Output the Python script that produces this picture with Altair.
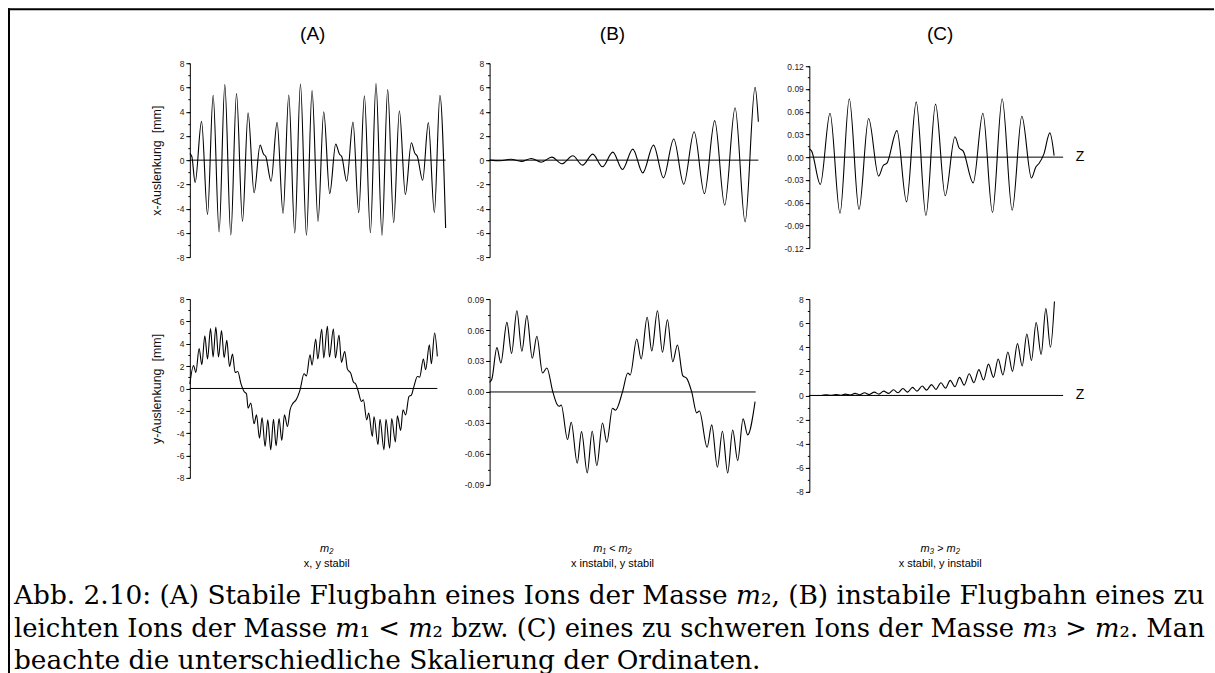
import altair as alt
import pandas as pd

SANS = "Liberation Sans Narrow, Liberation Sans, Arial, sans-serif"
SERIF = "DejaVu Serif, serif"

# ---------------- data ----------------
# panel A, x-deflection (mm)
a_top_z = [0, 2, 5.3, 11.7, 17.7, 23.3, 29.3, 35.0, 41.0, 46.7, 52.7, 58.3, 64.3, 70.3, 73.7, 76.0,
           81.3, 87.3, 93.3, 99.0, 105.0, 110.7, 116.7, 122.3, 128.3, 134.0, 140.0, 146.0, 149.7,
           152.0, 157.0, 163.3, 169.0, 174.7, 180.7, 186.3, 192.3, 198.0, 204.0, 209.7, 215.7,
           221.7, 225.0, 227.7, 233.0, 238.7, 244.7, 250.3, 256.0]
a_top_v = [0.55, 0.3, -1.85, 3.2, -4.5, 5.35, -5.93, 6.23, -6.18, 5.5, -5.05, 3.9, -2.7, 1.24, 0.5,
           0.3, -1.74, 3.12, -4.4, 5.38, -6.0, 6.29, -6.2, 5.74, -5.05, 4.0, -2.76, 1.32, 0.5, 0.3,
           -1.74, 3.14, -4.33, 5.32, -5.99, 6.32, -6.2, 5.82, -5.16, 4.08, -2.84, 1.43, 0.6, 0.3,
           -1.66, 3.1, -4.33, 5.35, -5.6]

# panel B, x-deflection (mm)
b_top_z = [0, 10.7, 21.3, 31.7, 41.7, 51.7, 62.3, 72.3, 83.3, 93.0, 103.3, 113.0, 123.3, 133.0,
           143.3, 153.3, 164.0, 174.0, 184.3, 194.3, 204.7, 215.0, 225.3, 235.3, 245.7, 255.7,
           265.7, 269.0]
b_top_v = [0, -0.05, 0.08, -0.1, 0.14, -0.17, 0.25, -0.3, 0.36, -0.41, 0.5, -0.55, 0.66, -0.77,
           0.91, -1.05, 1.24, -1.46, 1.74, -1.99, 2.34, -2.76, 3.26, -3.72, 4.33, -5.1, 6.01, 3.17]

# panel C, x-deflection (mm)
c_top_z = [0, 2.3, 11.0, 20.7, 30.7, 40.0, 49.7, 59.3, 69.3, 74.0, 77.7, 87.7, 97.3, 107.0, 116.7,
           126.3, 136.0, 145.7, 150.0, 154.0, 164.0, 173.7, 183.3, 193.0, 203.0, 212.7, 222.3,
           226.7, 230.0, 234.7, 240.7, 245.0]
c_top_v = [0.011, 0.008, -0.036, 0.058, -0.074, 0.077, -0.069, 0.051, -0.025, -0.011, -0.008,
           0.035, -0.059, 0.073, -0.077, 0.070, -0.051, 0.027, 0.012, 0.008, -0.034, 0.058,
           -0.073, 0.077, -0.070, 0.054, -0.0275, -0.013, -0.008, 0.004, 0.032, 0.002]

# panel A, y-deflection (mm)
a_bot_z = [0.0, 3.7, 6.0, 9.3, 12.0, 15.0, 17.7, 20.7, 23.3, 26.0, 28.7, 31.7, 34.3, 37.0, 39.7,
           42.7, 45.3, 48.0, 51.0, 54.3, 56.7, 58.3, 61.0, 64.3, 66.7, 69.7, 72.3, 75.3, 78.0,
           81.0, 83.7, 86.3, 89.3, 92.0, 94.7, 97.7, 100.3, 103.3, 106.0, 110.3, 114.3, 116.7,
           120.3, 122.3, 126.0, 128.0, 132.0, 134.0, 137.7, 139.7, 143.7, 145.7, 149.3, 151.7,
           155.0, 157.7, 161.0, 163.7, 166.0, 168.3, 171.7, 173.7, 177.0, 179.0, 182.7, 184.3,
           188.3, 190.3, 194.3, 196.3, 200.0, 202.0, 205.7, 207.7, 211.0, 213.3, 216.0, 219.3,
           221.7, 224.3, 227.7, 230.0, 233.7, 236.0, 239.7, 241.7, 245.0, 247.7]
a_bot_v = [0.39, 2.06, 1.43, 3.58, 2.12, 4.72, 2.63, 5.37, 2.81, 5.49, 2.81, 5.19, 2.75, 4.30,
           1.97, 3.07, 1.43, 1.52, 0.48, -0.27, -0.48, -1.76, -1.31, -3.16, -2.36, -4.45, -2.60,
           -5.19, -2.81, -5.49, -2.75, -5.13, -2.69, -4.66, -2.36, -3.40, -1.91, -1.31, -1.07,
           -0.12, 1.31, 1.13, 3.01, 2.09, 4.42, 2.63, 5.31, 2.72, 5.55, 2.81, 5.34, 2.72, 4.78,
           2.33, 3.31, 1.73, 1.37, 0.57, 0.39, -0.18, -1.16, -1.01, -2.81, -2.21, -4.30, -2.51,
           -5.04, -2.75, -5.49, -2.75, -5.34, -2.69, -4.78, -2.45, -3.76, -1.91, -2.36, -0.72,
           -0.60, 0.18, 1.07, 1.01, 2.63, 1.67, 3.91, 2.21, 4.96, 2.87]

# panel B, y-deflection (mm)
b_bot_z = [0, 2.3, 7.3, 11.3, 17.3, 22.0, 27.3, 32.3, 37.3, 42.7, 47.3, 53.0, 57.3, 63.3, 67.3,
           69.7, 71.7, 78.0, 81.7, 87.7, 92.0, 97.7, 102.7, 107.3, 113.0, 117.3, 123.0, 126.0,
           133.0, 138.3, 140.7, 147.3, 151.7, 157.7, 162.3, 168.0, 173.0, 178.0, 183.3, 188.0,
           193.3, 197.3, 202.3, 207.3, 210.0, 217.7, 222.3, 228.0, 233.0, 238.3, 243.3, 248.3,
           253.7, 258.3, 265.7]
b_bot_v = [0.0094, 0.0126, 0.0429, 0.0281, 0.0674, 0.0374, 0.0787, 0.0394, 0.0739, 0.0326,
           0.0539, 0.0184, 0.0232, 0.0, -0.0116, -0.0139, -0.0126, -0.0461, -0.0294, -0.0690,
           -0.0384, -0.0784, -0.0381, -0.0713, -0.0300, -0.0487, -0.0158, -0.0177, 0.0, 0.0184,
           0.0165, 0.0513, 0.0319, 0.0723, 0.0397, 0.0787, 0.0384, 0.0700, 0.0294, 0.0455,
           0.0158, 0.0132, 0.0, -0.0203, -0.0184, -0.0535, -0.0319, -0.0729, -0.0381, -0.0784,
           -0.0368, -0.0665, -0.0261, -0.0416, -0.0094]

# panel C, y-deflection (mm)
c_bot_z = [0, 12.0, 16.7, 21.7, 26.3, 31.0, 36.0, 41.0, 45.7, 50.3, 55.3, 60.0, 65.0, 69.7, 74.3,
           79.3, 84.3, 88.7, 93.7, 98.3, 103.3, 107.7, 113.0, 117.3, 122.3, 126.7, 131.7, 136.3,
           141.0, 145.7, 150.3, 155.0, 160.0, 164.7, 169.7, 174.3, 179.3, 184.3, 189.0, 193.7,
           198.7, 203.3, 208.3, 213.0, 217.7, 222.3, 227.0, 232.0, 236.7, 241.3, 245.3]
c_bot_v = [0.0, 0.0, 0.05, 0.01, 0.08, 0.02, 0.11, 0.03, 0.17, 0.06, 0.22, 0.08, 0.28, 0.11, 0.36,
           0.17, 0.47, 0.22, 0.58, 0.28, 0.67, 0.36, 0.78, 0.44, 0.9, 0.5, 1.05, 0.6, 1.25, 0.72,
           1.5, 0.86, 1.8, 1.05, 2.14, 1.28, 2.6, 1.5, 3.03, 1.7, 3.6, 2.0, 4.3, 2.45, 5.1, 2.9,
           6.05, 3.4, 7.2, 4.0, 7.8]

# axis ticks
ticks_mm_major = [-8, -6, -4, -2, 0, 2, 4, 6, 8]
ticks_mm_all = [-8, -7, -6, -5, -4, -3, -2, -1, 0, 1, 2, 3, 4, 5, 6, 7, 8]
ticks_c12_major = [-0.12, -0.09, -0.06, -0.03, 0.0, 0.03, 0.06, 0.09, 0.12]
ticks_c12_all = [-0.12, -0.105, -0.09, -0.075, -0.06, -0.045, -0.03, -0.015, 0.0, 0.015, 0.03,
                 0.045, 0.06, 0.075, 0.09, 0.105, 0.12]
ticks_c09_major = [-0.09, -0.06, -0.03, 0.0, 0.03, 0.06, 0.09]
ticks_c09_all = [-0.09, -0.075, -0.06, -0.045, -0.03, -0.015, 0.0, 0.015, 0.03, 0.045, 0.06,
                 0.075, 0.09]

# texts
col_titles = ["(A)", "(B)", "(C)"]
sub_line1 = ["m\u2082", "m\u2081 < m\u2082", "m\u2083 > m\u2082"]
sub_line2 = ["x, y stabil", "x instabil, y stabil", "x stabil, y instabil"]
y_titles = ["x-Auslenkung\u00a0\u00a0[mm]", "y-Auslenkung\u00a0\u00a0[mm]"]
caption_lines = [
    "Abb. 2.10: (A) Stabile Flugbahn eines Ions der Masse \U0001D45A\u2082, (B) instabile Flugbahn eines zu",
    "leichten Ions der Masse \U0001D45A\u2081 < \U0001D45A\u2082 bzw. (C) eines zu schweren Ions der Masse \U0001D45A\u2083 > \U0001D45A\u2082. Man",
    "beachte die unterschiedliche Skalierung der Ordinaten.",
]
caption_sizes = [26.4, 25.85, 26.4]

WIDTHS = [260, 280, 290]
H_TOP, H_BOT = 194, 193
one = pd.DataFrame({"k": [0]})


def label(txt, x, y, size, style="normal", font=SANS, align="center", baseline="middle"):
    return alt.Chart(one).mark_text(
        text=txt, font=font, fontSize=size, fontStyle=style, color="black",
        align=align, baseline=baseline
    ).encode(x=alt.value(x), y=alt.value(y))


def panel(z, v, W, H, ydom, yrange, major, ticks, fmt, zero_end,
          ytitle=None, zlabel=None, extra=()):
    xs = alt.Scale(domain=[0, W], nice=False, zero=False)
    ys = alt.Scale(domain=ydom, range=yrange, nice=False, zero=False)
    ax_kw = dict(values=major, format=fmt, orient="left",
                 labelExpr="replace(datum.label, '\u2212', '-')",
                 tickSize=4, tickWidth=1, tickColor="black",
                 domainColor="black", domainWidth=1, grid=False,
                 labelFont=SANS, labelFontSize=8.5, labelColor="#222", labelPadding=2)
    if ytitle:
        ax_kw.update(title=ytitle, titleFont=SANS, titleFontSize=12.5, titleFontWeight="normal",
                     titleColor="#111", titlePadding=13)
    else:
        ax_kw.update(title=None)
    major_axis = alt.Axis(**ax_kw)
    minor_axis = alt.Axis(values=ticks, labels=False, domain=False, tickSize=2, tickWidth=1,
                          tickColor="black", grid=False, orient="left", title=None)

    line = alt.Chart(pd.DataFrame({"z": z, "v": v})).mark_line(
        interpolate="monotone", color="black", strokeWidth=1.1
    ).encode(
        x=alt.X("z:Q", scale=xs, axis=None),
        y=alt.Y("v:Q", scale=ys, axis=major_axis),
    )
    zero = alt.Chart(pd.DataFrame({"z0": [0], "z1": [zero_end], "y0": [0]})).mark_rule(
        color="black", strokeWidth=1
    ).encode(
        x=alt.X("z0:Q", scale=xs, axis=None),
        x2="z1:Q",
        y=alt.Y("y0:Q", scale=ys, axis=minor_axis),
    )
    layers = [zero, line]
    if zlabel is not None:
        zt = alt.Chart(pd.DataFrame({"z": [zlabel], "v": [0], "t": ["Z"]})).mark_text(
            font="Liberation Sans", fontSize=14, color="black", align="center", baseline="middle"
        ).encode(x=alt.X("z:Q", scale=xs, axis=None), y=alt.Y("v:Q", scale=ys, axis=None),
                 text="t:N")
        layers.append(zt)
    layers.extend(extra)
    return alt.layer(*layers).resolve_axis(y="independent").properties(width=W, height=H)


# frame (drawn from the top-left panel, whose plot starts at x=189, y=62)
frame_v = alt.Chart(one).mark_rule(color="black", strokeWidth=2).encode(
    x=alt.value(-181), y=alt.value(-55), y2=alt.value(612))
frame_h = alt.Chart(one).mark_rule(color="black", strokeWidth=2).encode(
    x=alt.value(-182), x2=alt.value(1025), y=alt.value(-54))

# caption (drawn from the bottom-left panel, whose plot starts at x=189, y=298)
cap_marks = [label(t, -176, yb, s, font=SERIF, align="left", baseline="alphabetic")
             for t, yb, s in zip(caption_lines, [305, 338, 370], caption_sizes)]

TITLE_Y = -29   # relative to top-row plots
SUB_Y1, SUB_Y2 = 250, 265  # relative to bottom-row plots

a_top = panel(a_top_z, a_top_v, WIDTHS[0], H_TOP, [-8, 8], [194, 0], ticks_mm_major,
              ticks_mm_all, "d", 256, ytitle=y_titles[0],
              extra=[frame_v, frame_h, label(col_titles[0], 123, TITLE_Y, 19)])
b_top = panel(b_top_z, b_top_v, WIDTHS[1], H_TOP, [-8, 8], [194, 0], ticks_mm_major,
              ticks_mm_all, "d", 269, extra=[label(col_titles[1], 123, TITLE_Y, 19)])
c_top = panel(c_top_z, c_top_v, WIDTHS[2], H_TOP, [-0.12, 0.12], [185, 3], ticks_c12_major,
              ticks_c12_all, ".2f", 254, zlabel=271,
              extra=[label(col_titles[2], 131, TITLE_Y, 19)])

a_bot = panel(a_bot_z, a_bot_v, WIDTHS[0], H_BOT, [-8, 8], [179, 0], ticks_mm_major,
              ticks_mm_all, "d", 247.7, ytitle=y_titles[1],
              extra=cap_marks + [label(sub_line1[0], 137, SUB_Y1, 11, "italic"),
                                 label(sub_line2[0], 137, SUB_Y2, 11)])
b_bot = panel(b_bot_z, b_bot_v, WIDTHS[1], H_BOT, [-0.09, 0.09], [186, 0], ticks_c09_major,
              ticks_c09_all, ".2f", 266.3,
              extra=[label(sub_line1[1], 123, SUB_Y1, 11, "italic"),
                     label(sub_line2[1], 123, SUB_Y2, 11)])
c_bot = panel(c_bot_z, c_bot_v, WIDTHS[2], H_BOT, [-8, 8], [193, 0], ticks_mm_major,
              ticks_mm_all, "d", 254, zlabel=271,
              extra=[label(sub_line1[2], 131, SUB_Y1, 11, "italic"),
                     label(sub_line2[2], 131, SUB_Y2, 11)])

chart = alt.concat(
    a_top, b_top, c_top, a_bot, b_bot, c_bot,
    columns=3, spacing={"row": 42, "column": 40}, bounds="flush",
).properties(
    padding={"left": 7, "top": 7, "right": 0, "bottom": 0},
    background="white",
).configure_view(stroke=None)

chart.save("out.html", embed_options={"renderer": "svg", "actions": False})
